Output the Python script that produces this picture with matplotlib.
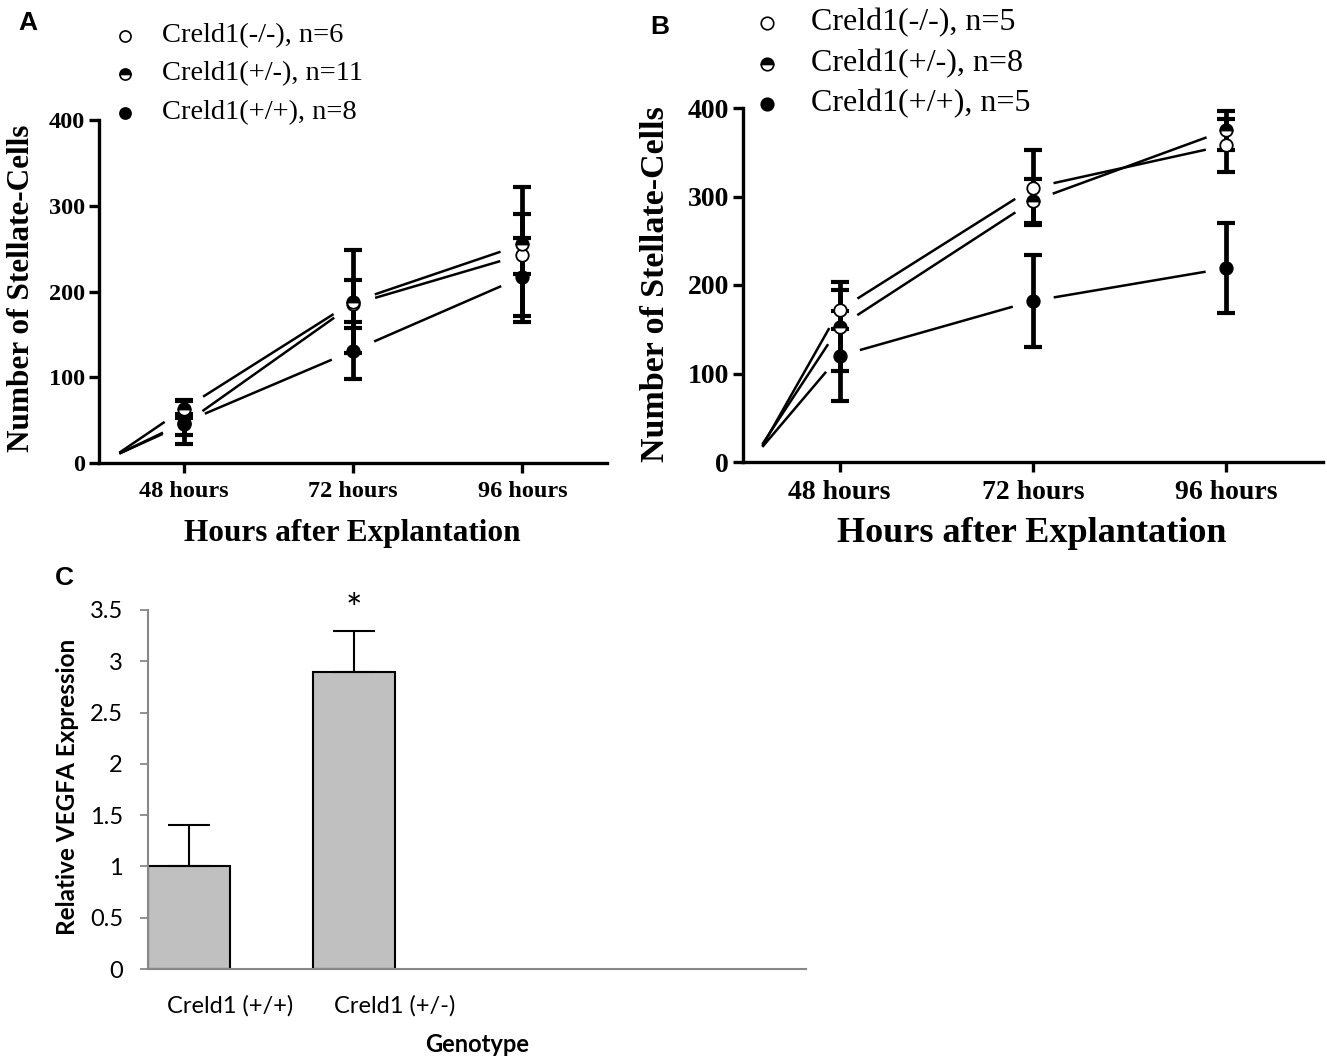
import matplotlib
matplotlib.use("Agg")
import matplotlib.pyplot as plt
import numpy as np

# ---------------- data ----------------
time_labels = ["48 hours", "72 hours", "96 hours"]
# x positions (category units); first entry is the unlabeled starting time point
a_x = [-0.38, 0, 1, 2]
b_x = [-0.40, 0, 1, 2]

# Panel A
a_ko_mean = [11, 45, 185, 243]     # Creld1(-/-), n=6
a_ko_err = [0, 12, 28, 79]
a_het_mean = [12, 63, 188, 255]    # Creld1(+/-), n=11
a_het_err = [0, 10, 60, 35]
a_wt_mean = [11, 47, 131, 217]     # Creld1(+/+), n=8
a_wt_err = [0, 25, 33, 45]
a_labels = ["Creld1(-/-), n=6", "Creld1(+/-), n=11", "Creld1(+/+), n=8"]

# Panel B
b_ko_mean = [18, 172, 310, 358]    # Creld1(-/-), n=5
b_ko_err = [0, 22, 42, 30]
b_het_mean = [20, 153, 295, 375]   # Creld1(+/-), n=8
b_het_err = [0, 50, 25, 22]
b_wt_mean = [17, 120, 182, 219]    # Creld1(+/+), n=5
b_wt_err = [0, 51, 52, 51]
b_labels = ["Creld1(-/-), n=5", "Creld1(+/-), n=8", "Creld1(+/+), n=5"]

# Panel C
genotypes = ["Creld1 (+/+)", "Creld1 (+/-)"]
vegfa = [1.0, 2.9]
vegfa_err = [0.4, 0.4]

# ---------------- figure ----------------
W, H = 1327, 1056
fig = plt.figure(figsize=(W / 100, H / 100), dpi=100)
SERIF = "Liberation Serif"
SANS = "Liberation Sans"
CAL = "Lato"


def add_ax(l, t, r, b):
    return fig.add_axes([l / W, 1 - b / H, (r - l) / W, (b - t) / H])


def fx(x):
    return x / W


def fy(y):
    return 1 - y / H


marker_styles = [
    dict(marker="o", markerfacecolor="white", markeredgecolor="black"),
    dict(marker="o", fillstyle="top", markerfacecolor="black",
         markerfacecoloralt="white", markeredgecolor="black"),
    dict(marker="o", markerfacecolor="black", markeredgecolor="black"),
]


def gapped_line(ax, xs, ys, gap):
    """Connect points with straight segments that stop short of each
    plotted mean (GraphPad style)."""
    xs = np.asarray(xs, float)
    ys = np.asarray(ys, float)
    for i in range(len(xs) - 1):
        p0 = ax.transData.transform((xs[i], ys[i]))
        p1 = ax.transData.transform((xs[i + 1], ys[i + 1]))
        d = p1 - p0
        L = np.hypot(*d)
        u = d / L
        g0 = 0 if i == 0 else gap
        q0 = p0 + u * g0
        q1 = p1 - u * gap
        pts = ax.transData.inverted().transform(np.vstack([q0, q1]))
        ax.plot(pts[:, 0], pts[:, 1], color="black", lw=1.8, zorder=2,
                solid_capstyle="butt")


def style_ab(ax, tick_fs):
    ax.set_xlim(-0.5, 2.5)
    ax.set_ylim(0, 400)
    ax.set_autoscale_on(False)
    for s in ["top", "right"]:
        ax.spines[s].set_visible(False)
    for s in ["left", "bottom"]:
        ax.spines[s].set_linewidth(2.4)
        ax.spines[s].set_color("black")
    ax.tick_params(direction="out", length=7, width=2.4, pad=3)
    ax.set_xticks([0, 1, 2])
    ax.set_xticklabels(time_labels, fontfamily=SERIF, fontweight="bold",
                       fontsize=tick_fs)
    ax.set_yticks([0, 100, 200, 300, 400])
    ax.set_yticklabels(["0", "100", "200", "300", "400"], fontfamily=SERIF,
                       fontweight="bold", fontsize=tick_fs)
    ax.tick_params(axis="x", pad=6)


def draw_series(ax, xs, means, errs, ms, gap):
    gapped_line(ax, xs, means, gap)
    ax.errorbar(xs[1:], means[1:], yerr=errs[1:], fmt="none", ecolor="black",
                elinewidth=3.4, capsize=6.5, capthick=3.0, zorder=3,
                clip_on=False)
    ax.plot(xs[1:], means[1:], ls="none", markersize=9, markeredgewidth=1.3,
            zorder=4, clip_on=False, **ms)


def legend(labels, mx, tx, ys, fs, msize):
    for lab, y, ms in zip(labels, ys, marker_styles):
        fig.add_artist(plt.Line2D([fx(mx)], [fy(y)], ls="none",
                                  markersize=msize, markeredgewidth=1.2,
                                  transform=fig.transFigure, **ms))
        fig.text(fx(tx), fy(y), lab, fontfamily=SERIF, fontsize=fs,
                 ha="left", va="center")


# ---------------- Panel A ----------------
axA = add_ax(99, 120, 607, 463)
style_ab(axA, 17.5)
for m, e, ms in zip([a_ko_mean, a_het_mean, a_wt_mean],
                    [a_ko_err, a_het_err, a_wt_err], marker_styles):
    draw_series(axA, a_x, m, e, ms, 23)
fig.text(fx(352), fy(533), "Hours after Explantation", fontfamily=SERIF,
         fontweight="bold", fontsize=22.5, ha="center", va="center")
fig.text(fx(22), fy(288), "Number of Stellate-Cells", fontfamily=SERIF,
         fontweight="bold", fontsize=22.5, ha="center", va="center",
         rotation=90)
legend(a_labels, 125, 162, [36, 74, 113], 20.5, 8)
fig.text(fx(28), fy(23), "A", fontfamily=SANS, fontweight="bold",
         fontsize=19, ha="center", va="center")

# ---------------- Panel B ----------------
axB = add_ax(743, 108, 1323, 462)
style_ab(axB, 20)
for m, e, ms in zip([b_ko_mean, b_het_mean, b_wt_mean],
                    [b_ko_err, b_het_err, b_wt_err], marker_styles):
    draw_series(axB, b_x, m, e, ms, 21)
fig.text(fx(1032), fy(533), "Hours after Explantation", fontfamily=SERIF,
         fontweight="bold", fontsize=26, ha="center", va="center")
fig.text(fx(656), fy(284), "Number of Stellate-Cells", fontfamily=SERIF,
         fontweight="bold", fontsize=24.5, ha="center", va="center",
         rotation=90)
legend(b_labels, 767, 811, [23, 64, 104], 23, 9)
fig.text(fx(660), fy(27), "B", fontfamily=SANS, fontweight="bold",
         fontsize=19, ha="center", va="center")

# ---------------- Panel C ----------------
axC = add_ax(148, 610, 806, 969)
xc = np.arange(len(vegfa))
axC.bar(xc - 0.25, vegfa, width=0.5, color="#C0C0C0", edgecolor="black",
        linewidth=1.5, zorder=2)
axC.errorbar(xc - 0.25, vegfa, yerr=[np.zeros(len(vegfa)), vegfa_err],
             fmt="none", ecolor="black", elinewidth=1.5, capsize=15,
             capthick=1.5, zorder=3)
axC.annotate("*", xy=(xc[1] - 0.25, vegfa[1] + vegfa_err[1]),
             xytext=(0, 1), textcoords="offset points", ha="center",
             va="bottom", fontsize=28, fontfamily=CAL)
axC.set_xlim(-0.5, 3.5)
axC.set_ylim(0, 3.5)
for s in ["top", "right"]:
    axC.spines[s].set_visible(False)
for s in ["left", "bottom"]:
    axC.spines[s].set_color("#888888")
    axC.spines[s].set_linewidth(1.5)
yt = np.arange(0, 3.51, 0.5)
axC.set_yticks(yt)
axC.set_yticklabels(["{:g}".format(v) for v in yt], fontfamily=CAL,
                    fontsize=17)
axC.tick_params(axis="y", direction="out", length=6, width=1.3,
                color="#888888", pad=12)
axC.set_xticks(xc)
axC.set_xticklabels(genotypes, fontfamily=CAL, fontsize=17)
axC.tick_params(axis="x", length=0, pad=19)
fig.text(fx(477), fy(1044), "Genotype", fontfamily=CAL, fontweight="bold",
         fontsize=17, ha="center", va="center")
fig.text(fx(68), fy(787), "Relative VEGFA Expression", fontfamily=CAL,
         fontweight="bold", fontsize=17.5, ha="center", va="center",
         rotation=90)
fig.text(fx(64), fy(578), "C", fontfamily=SANS, fontweight="bold",
         fontsize=19, ha="center", va="center")

fig.savefig("out.png", dpi=100)
